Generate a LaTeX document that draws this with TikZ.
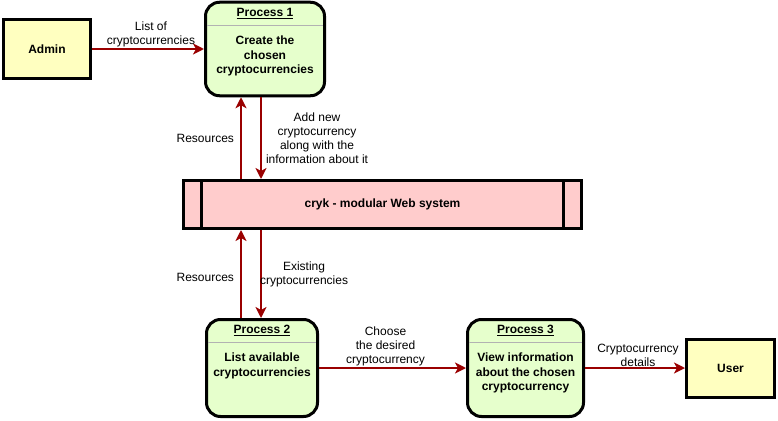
\documentclass[tikz,border=0pt]{standalone}
\usepackage{fontspec}
\setmainfont{Liberation Sans}
\usetikzlibrary{arrows.meta}
\definecolor{flowred}{HTML}{9A0000}
\definecolor{extfill}{HTML}{FFFFC0}
\definecolor{procfill}{HTML}{E6FFCC}
\definecolor{sysfill}{HTML}{FFCCCC}

\begin{document}
\begin{tikzpicture}[x=1pt, y=-1pt,
    dataflow/.style={draw=flowred, line width=2pt, -{Stealth[length=11pt,width=11pt,inset=3pt]}},
    lbl/.style={font=\fontsize{12}{14}\selectfont, align=center, inner sep=1pt},
    extbox/.style={draw, line width=3pt, fill=extfill, minimum width=87pt, minimum height=58pt,
      font=\fontsize{12}{14}\selectfont\bfseries},
    procbox/.style={draw, line width=3pt, fill=procfill, rounded corners=14pt, minimum height=97pt},
    ptitle/.style={font=\fontsize{12}{14}\selectfont\bfseries, anchor=base},
    pbody/.style={font=\fontsize{12}{14.5}\selectfont\bfseries, align=center, anchor=north, inner sep=0pt},
    divline/.style={draw=gray!60, line width=1pt, shorten >=3pt, shorten <=3pt},
  ]
  \useasboundingbox (0,0) rectangle (778,420);

  % Admin
  \node[extbox] (admin) at (47,49) {Admin};
  % Process 1
  \node[procbox, minimum width=119pt, minimum height=93.5pt] (p1) at (265,49) {};
  \node[ptitle] at ([yshift=-15.5pt]p1.north) {\underline{Process 1}};
  \draw[divline] ([yshift=-24.5pt]p1.north west) -- ([yshift=-24.5pt]p1.north east);
  \node[pbody] at ([yshift=-35pt]p1.north) {Create the\\chosen\\cryptocurrencies};
  % system
  \node[draw, line width=3pt, fill=sysfill, minimum width=398pt, minimum height=48pt,
    font=\fontsize{12}{14}\selectfont\bfseries] (sys) at (382.5,204.5) {cryk - modular Web system};
  \draw[line width=3pt] ([xshift=19pt]sys.north west) -- ([xshift=19pt]sys.south west);
  \draw[line width=3pt] ([xshift=-19.5pt]sys.north east) -- ([xshift=-19.5pt]sys.south east);
  % Process 2
  \node[procbox, minimum width=111pt] (p2) at (262,368) {};
  \node[ptitle] at ([yshift=-15.5pt]p2.north) {\underline{Process 2}};
  \draw[divline] ([yshift=-24.5pt]p2.north west) -- ([yshift=-24.5pt]p2.north east);
  \node[pbody] at ([yshift=-35pt]p2.north) {List available\\cryptocurrencies};
  % Process 3
  \node[procbox, minimum width=116pt] (p3) at (525.5,368) {};
  \node[ptitle] at ([yshift=-15.5pt]p3.north) {\underline{Process 3}};
  \draw[divline] ([yshift=-24.5pt]p3.north west) -- ([yshift=-24.5pt]p3.north east);
  \node[pbody] at ([yshift=-35pt]p3.north) {View information\\about the chosen\\cryptocurrency};
  % User
  \node[extbox, minimum width=88pt] (user) at (730.5,368) {User};

  % flows
  \coordinate (upx) at (241,0);
  \coordinate (dnx) at (261,0);
  \draw[dataflow] (admin) -- node[lbl, above, xshift=3pt] {List of\\cryptocurrencies} (p1);
  \draw[dataflow] (upx |- sys.north) -- node[lbl, left=5pt] {Resources} (upx |- p1.south);
  \draw[dataflow] (dnx |- p1.south) -- node[lbl, right=3pt]
    {Add new\\cryptocurrency\\along with the\\information about it} (dnx |- sys.north);
  \draw[dataflow] (upx |- p2.north) -- node[lbl, left=5pt, yshift=-3pt] {Resources} (upx |- sys.south);
  \draw[dataflow] (dnx |- sys.south) -- node[lbl, right=-3pt] {Existing\\cryptocurrencies} (dnx |- p2.north);
  \draw[dataflow] (p2) -- node[lbl, above, xshift=-7pt] {Choose\\the desired\\cryptocurrency} (p3);
  \draw[dataflow] (p3) -- node[lbl, above, inner sep=0pt, xshift=3pt] {Cryptocurrency\\details} (user);
\end{tikzpicture}
\end{document}
